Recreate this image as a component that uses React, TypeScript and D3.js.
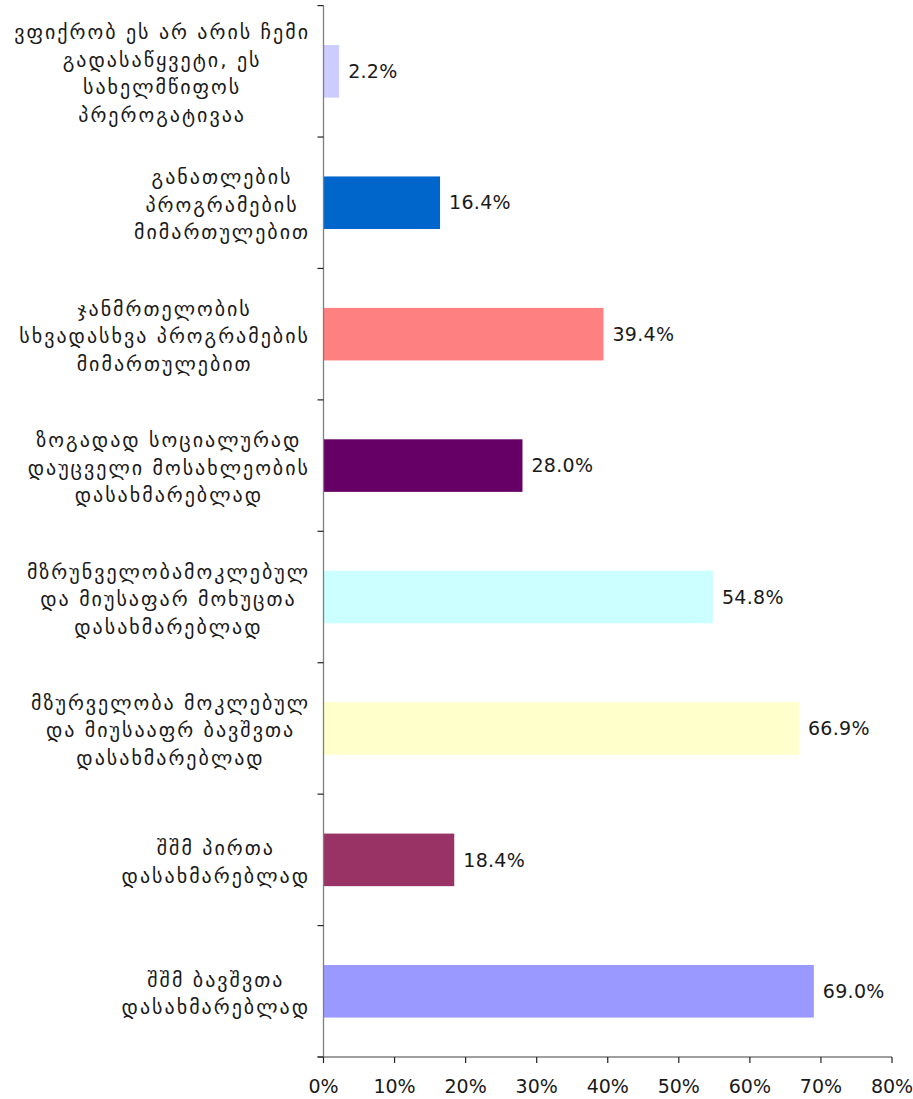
import React, { useEffect, useRef } from "react";
import * as d3 from "d3";

const categories: string[][] = [
  ["ვფიქრობ ეს არ არის ჩემი", "გადასაწყვეტი, ეს", "სახელმწიფოს", "პრეროგატივაა"],
  ["განათლების", "პროგრამების", "მიმართულებით"],
  ["ჯანმრთელობის", "სხვადასხვა პროგრამების", "მიმართულებით"],
  ["ზოგადად სოციალურად", "დაუცველი მოსახლეობის", "დასახმარებლად"],
  ["მზრუნველობამოკლებულ", "და მიუსაფარ მოხუცთა", "დასახმარებლად"],
  ["მზურველობა მოკლებულ", "და მიუსააფრ ბავშვთა", "დასახმარებლად"],
  ["შშმ პირთა", "დასახმარებლად"],
  ["შშმ ბავშვთა", "დასახმარებლად"],
];
const values: number[] = [2.2, 16.4, 39.4, 28.0, 54.8, 66.9, 18.4, 69.0];
const colors: string[] = ["#CCCCFF", "#0066CC", "#FF8080", "#660066", "#CCFFFF", "#FFFFCC", "#993366", "#9999FF"];
const xTicks: number[] = [0, 10, 20, 30, 40, 50, 60, 70, 80];

const W = 913;
const H = 1099;
const FONT = "'DejaVu Sans', sans-serif";

export default function App() {
  const ref = useRef<SVGSVGElement>(null);
  useEffect(() => {
    const svg = d3.select(ref.current);
    svg.selectAll("*").remove();
    const x0 = 323.5, x1 = 892, yTop = 5.6, yBot = 1057;
    const x = d3.scaleLinear().domain([0, 80]).range([x0, x1]);
    const idx = d3.range(categories.length);
    const y = d3.scaleBand<number>().domain(idx).range([yTop, yBot]).paddingInner(0.6).paddingOuter(0.3);
    const band = (yBot - yTop) / categories.length;

    // bars
    svg.append("g").selectAll("rect").data(idx).join("rect")
      .attr("x", x(0))
      .attr("y", (i) => y(i)!)
      .attr("width", (i) => x(values[i]) - x(0))
      .attr("height", y.bandwidth())
      .attr("fill", (i) => colors[i]);

    // value labels
    svg.append("g").selectAll("text").data(idx).join("text")
      .attr("x", (i) => x(values[i]) + 9)
      .attr("y", (i) => y(i)! + y.bandwidth() / 2)
      .attr("dy", "0.35em")
      .attr("font-family", FONT)
      .attr("font-size", 19)
      .attr("letter-spacing", 0.3)
      .attr("fill", "#1a1a1a")
      .text((i) => values[i].toFixed(1) + "%");

    // axes lines
    const axisColor = "#7f7f7f";
    svg.append("line").attr("x1", x0).attr("x2", x0).attr("y1", yTop).attr("y2", yBot)
      .attr("stroke", axisColor).attr("stroke-width", 1.3);
    svg.append("line").attr("x1", x0 - 6).attr("x2", x1).attr("y1", yBot).attr("y2", yBot)
      .attr("stroke", axisColor).attr("stroke-width", 1.3);
    // category ticks
    svg.append("g").selectAll("line").data(d3.range(categories.length + 1)).join("line")
      .attr("x1", x0 - 6).attr("x2", x0)
      .attr("y1", (k) => yTop + k * band).attr("y2", (k) => yTop + k * band)
      .attr("stroke", "#222").attr("stroke-width", 1.2);
    // x ticks
    svg.append("g").selectAll("line").data(xTicks).join("line")
      .attr("x1", (t) => x(t)).attr("x2", (t) => x(t))
      .attr("y1", yBot).attr("y2", yBot + 6)
      .attr("stroke", "#222").attr("stroke-width", 1.2);
    svg.append("g").selectAll("text").data(xTicks).join("text")
      .attr("x", (t) => x(t)).attr("y", 1086)
      .attr("dy", "0.35em")
      .attr("text-anchor", "middle")
      .attr("font-family", FONT).attr("font-size", 19).attr("fill", "#1a1a1a")
      .text((t) => t + "%");

    // category labels
    const lineH = 27.5;
    const labelRight = 310;
    idx.forEach((i) => {
      const lines = categories[i];
      const cy = yTop + band * (i + 0.5) + 2;
      const g = svg.append("g");
      const texts = g.selectAll("text").data(lines).join("text")
        .attr("y", (_, k) => cy + (k - (lines.length - 1) / 2) * lineH)
        .attr("dy", "0.35em")
        .attr("text-anchor", "middle")
        .attr("font-family", FONT).attr("font-size", 20).attr("letter-spacing", 2.0)
        .attr("fill", "#1a1a1a")
        .text((d) => d);
      let maxW = 0;
      texts.each(function () {
        maxW = Math.max(maxW, (this as SVGTextElement).getComputedTextLength());
      });
      texts.attr("x", labelRight - maxW / 2);
    });
  }, []);
  return (
    <div style={{ position: "absolute", left: 0, top: 0 }}>
      <svg ref={ref} width={W} height={H} style={{ display: "block", background: "#fff" }} />
    </div>
  );
}
